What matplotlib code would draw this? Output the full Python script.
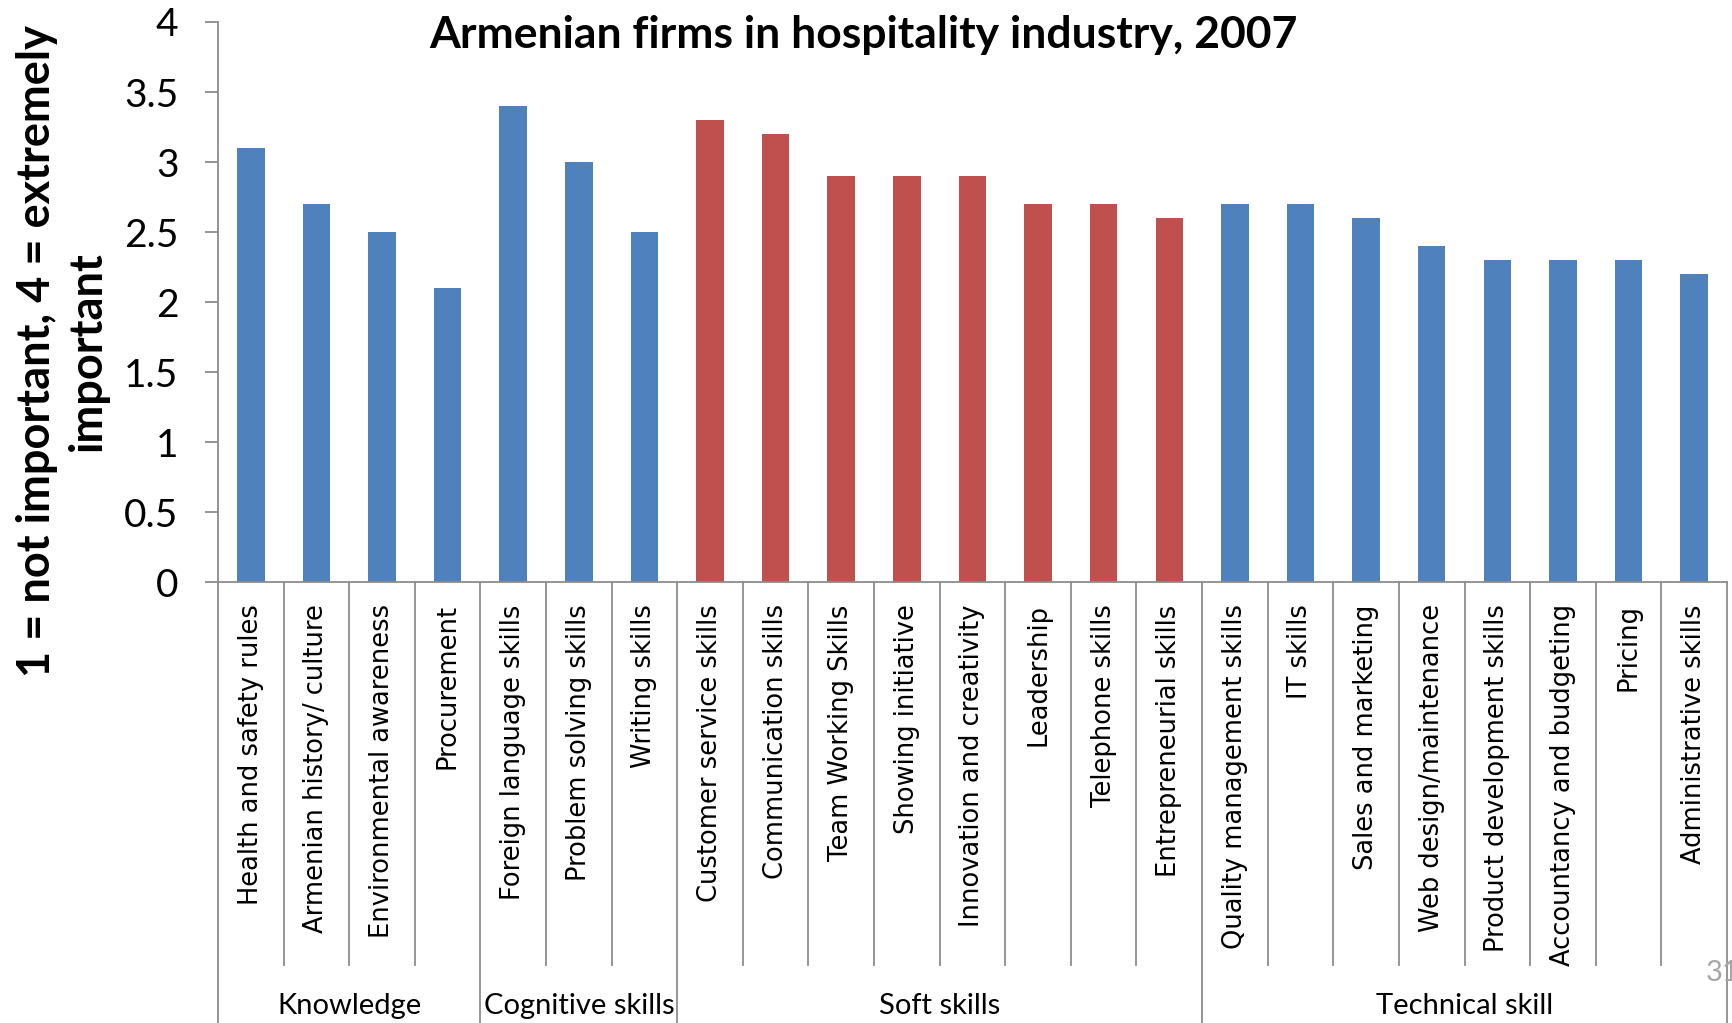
import numpy as np
import matplotlib
matplotlib.use('Agg')
import matplotlib.pyplot as plt
import matplotlib.transforms as mtransforms

# importance ratings, one entry per skill
skills = ['Health and safety rules', 'Armenian history/ culture', 'Environmental awareness',
          'Procurement', 'Foreign language skills', 'Problem solving skills', 'Writing skills',
          'Customer service skills', 'Communication skills', 'Team Working Skills',
          'Showing initiative', 'Innovation and creativity', 'Leadership', 'Telephone skills',
          'Entrepreneurial skills', 'Quality management skills', 'IT skills',
          'Sales and marketing', 'Web design/maintenance', 'Product development skills',
          'Accountancy and budgeting', 'Pricing', 'Administrative skills']
scores = [3.1, 2.7, 2.5, 2.1, 3.4, 3.0, 2.5,
          3.3, 3.2, 2.9, 2.9, 2.9, 2.7, 2.7, 2.6,
          2.7, 2.7, 2.6, 2.4, 2.3, 2.3, 2.3, 2.2]
groups = ['Knowledge', 'Cognitive skills', 'Soft skills', 'Technical skill']
group_sizes = [4, 3, 8, 8]
highlight_group = 'Soft skills'

BLUE = '#4F81BD'
RED = '#C0504D'
GRID = '#8C8C8C'

fig = plt.figure(figsize=(17.33, 10.23), dpi=100)
ax = fig.add_axes([0.1258, 0.431, 0.8707, 0.5475])

colors = []
for g, n in zip(groups, group_sizes):
    colors += [RED if g == highlight_group else BLUE] * n

x = np.arange(len(skills))
ax.bar(x, scores, width=0.42, color=colors, zorder=2)

ax.set_xlim(-0.5, len(skills) - 0.5)
ax.set_ylim(0, 4)
ax.set_yticks(np.arange(0, 4.01, 0.5))
ax.set_yticklabels(['0', '0.5', '1', '1.5', '2', '2.5', '3', '3.5', '4'],
                   fontfamily='Lato', fontsize=28)
ax.tick_params(axis='y', direction='out', length=9.5, width=1.3, color=GRID, pad=19)

ax.set_xticks(x)
ax.set_xticklabels(skills, rotation=90, fontfamily='DejaVu Sans', fontsize=18.5,
                   va='top', ha='center')
ax.tick_params(axis='x', length=0, pad=16)

for side in ['top', 'right']:
    ax.spines[side].set_visible(False)
for side in ['left', 'bottom']:
    ax.spines[side].set_color(GRID)
    ax.spines[side].set_linewidth(1.3)

# category separators below the axis, longer ones between groups
trans = mtransforms.blended_transform_factory(ax.transData, ax.transAxes)
bounds = np.cumsum([0] + group_sizes) - 0.5
for b in np.arange(-0.5, len(skills)):
    bottom = -0.7875 if np.isclose(bounds, b).any() else -0.684
    ax.plot([b, b], [0, bottom], transform=trans, color=GRID, lw=1.3, clip_on=False)

for g, lo, hi in zip(groups, bounds[:-1], bounds[1:]):
    ax.text((lo + hi) / 2, -0.757, g, transform=trans, ha='center', va='center',
            fontfamily='Lato', fontsize=21)

fig.text(0.4985, 0.966, 'Armenian firms in hospitality industry, 2007', ha='center',
         va='center', fontfamily='Lato', fontweight='bold', fontsize=32)
fig.text(0.036, 0.657, '1 = not important, 4 = extremely\nimportant', rotation=90,
         ha='center', va='center', fontfamily='Lato', fontweight='bold', fontsize=32.5,
         linespacing=1.25)
fig.text(0.984, 0.049, '31', ha='left', va='center', color='#A6A6A6',
         fontfamily='Lato', fontsize=21)

fig.savefig('out.png', dpi=100)
